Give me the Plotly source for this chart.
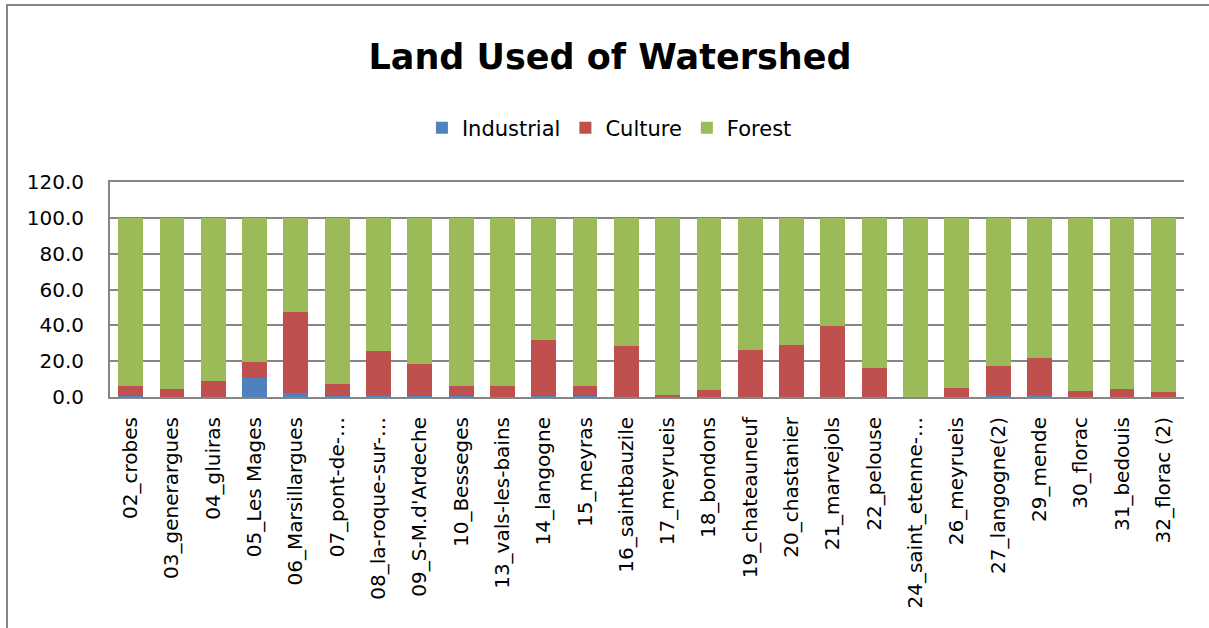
import plotly.graph_objects as go

categories = ["02_crobes", "03_generargues", "04_gluiras", "05_Les Mages", "06_Marsillargues",
              "07_pont-de-…", "08_la-roque-sur-…", "09_S-M.d'Ardeche", "10_Besseges",
              "13_vals-les-bains", "14_langogne", "15_meyras", "16_saintbauzile", "17_meyrueis",
              "18_bondons", "19_chateauneuf", "20_chastanier", "21_marvejols", "22_pelouse",
              "24_saint_etenne-…", "26_meyrueis", "27_langogne(2)", "29_mende", "30_florac",
              "31_bedouis", "32_florac (2)"]

industrial = [0.5, 0.0, 0.0, 10.5, 2.2, 0.8, 1.2, 0.8, 0.3, 0.2, 0.6, 0.3, 0.0, 0.0,
              0.0, 0.0, 0.0, 0.0, 0.0, 0.0, 0.0, 1.0, 1.0, 0.0, 0.0, 0.0]
culture = [5.6, 4.6, 8.7, 9.1, 45.4, 6.4, 24.7, 17.5, 5.7, 5.8, 31.2, 5.7, 28.5, 1.3,
           3.7, 26.5, 28.9, 39.7, 16.4, 0.2, 5.3, 16.4, 20.5, 3.1, 4.2, 2.8]
forest = [round(100 - i - c, 1) for i, c in zip(industrial, culture)]

y_ticks = [0, 20, 40, 60, 80, 100, 120]

FONT = "'DejaVu Sans', sans-serif"
colors = {"Industrial": "#4F81BD", "Culture": "#C0504D", "Forest": "#9BBB59"}

fig = go.Figure()
for name, vals in [("Industrial", industrial), ("Culture", culture), ("Forest", forest)]:
    fig.add_trace(go.Bar(x=categories, y=vals, name=name,
                         marker=dict(color=colors[name], line=dict(width=0))))

W, H = 1209, 628
L, R, T, B = 110, 25, 182, 231
pw, ph = W - L - R, H - T - B

fig.update_layout(
    width=W, height=H,
    barmode="stack", bargap=0.4,
    margin=dict(l=L, r=R, t=T, b=B, autoexpand=False),
    paper_bgcolor="white", plot_bgcolor="white",
    font=dict(family=FONT, size=20, color="black"),
    title=dict(text="<b>Land Used of Watershed</b>", x=610 / W, xref="container", xanchor="center",
               y=1 - 57 / H, yref="container", yanchor="middle",
               font=dict(family=FONT, size=35, color="black")),
    legend=dict(orientation="h", x=0.465, xanchor="center", y=1 + (T - 128) / ph,
                yanchor="middle", font=dict(size=21), itemwidth=30, traceorder="normal"),
    showlegend=True,
)
fig.update_yaxes(range=[0, 120], tickvals=y_ticks, tickformat=".1f",
                 showgrid=True, gridcolor="#868686", gridwidth=2,
                 showline=True, linecolor="#868686", linewidth=2,
                 ticks="outside", ticklen=20, tickcolor="rgba(0,0,0,0)",
                 tickfont=dict(size=20), zeroline=False)
fig.update_xaxes(tickangle=-90, showline=True, linecolor="#868686", linewidth=2, mirror=True,
                 ticks="outside", ticklen=10, tickcolor="rgba(0,0,0,0)",
                 tickfont=dict(size=20))

# outer chart frame
fig.add_shape(type="rect", xref="paper", yref="paper",
              x0=(7 - L) / pw, x1=(W + 10 - L) / pw,
              y0=-(B + 10) / ph, y1=1 + (T - 5) / ph,
              line=dict(color="#868686", width=2), fillcolor="rgba(0,0,0,0)", layer="below")

fig.write_html("out.html", config={"displayModeBar": False},
               post_script="document.body.style.margin='0';")
